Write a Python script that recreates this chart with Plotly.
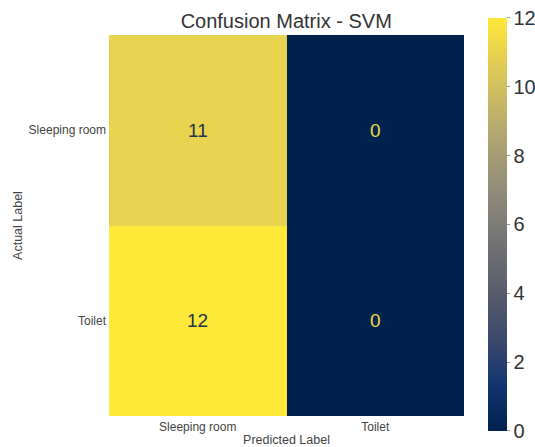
import plotly.graph_objects as go

# Confusion matrix for the SVM classifier
labels = ["Sleeping room", "Toilet"]
counts = [
    [11, 0],   # actual: Sleeping room
    [12, 0],   # actual: Toilet
]
cbar_ticks = [0, 2, 4, 6, 8, 10, 12]

FONT = "Liberation Sans, Arial, sans-serif"

fig = go.Figure()
fig.add_trace(go.Heatmap(
    z=counts,
    x=labels,
    y=labels,
    colorscale="Cividis",
    zmin=0,
    zmax=12,
    xgap=0,
    ygap=0,
    showscale=True,
    colorbar=dict(
        x=1.068, xanchor="left", xpad=0,
        y=0.503, yanchor="middle", ypad=0,
        len=413, lenmode="pixels",
        thickness=19,
        outlinewidth=0,
        tickvals=cbar_ticks,
        ticks="outside", ticklen=3, tickcolor="#999999", tickwidth=1,
        tickfont=dict(family=FONT, size=20, color="#333333"),
    ),
    hoverinfo="skip",
))

# cell counts: dark text on bright cells, yellow text on dark cells
for i, row_label in enumerate(labels):
    for j, col_label in enumerate(labels):
        v = counts[i][j]
        fig.add_annotation(
            x=col_label, y=row_label, text=str(v), showarrow=False,
            font=dict(family=FONT, size=19,
                      color="#22344c" if v > 6 else "#ecdc48"),
        )

fig.update_layout(
    width=535, height=447,
    margin=dict(l=109, r=71, t=35, b=31, autoexpand=False),
    paper_bgcolor="white",
    plot_bgcolor="white",
    title=dict(text="Confusion Matrix - SVM", x=0.535, xanchor="center",
               y=0.952, yanchor="middle",
               font=dict(family=FONT, size=20, color="#333333")),
    xaxis=dict(
        title=dict(text="Predicted Label", standoff=2,
                   font=dict(family=FONT, size=12.5, color="#444444")),
        tickfont=dict(family=FONT, size=12, color="#444444"),
        ticklabelstandoff=2,
        showgrid=False, zeroline=False, ticks="", ticklen=0,
        automargin=False,
    ),
    yaxis=dict(
        title=dict(text="Actual Label", standoff=3,
                   font=dict(family=FONT, size=12.5, color="#444444")),
        tickfont=dict(family=FONT, size=12, color="#444444"),
        ticklabelstandoff=2,
        autorange="reversed",
        showgrid=False, zeroline=False, ticks="", ticklen=0,
        automargin=False,
    ),
)

fig.write_html("out.html")
